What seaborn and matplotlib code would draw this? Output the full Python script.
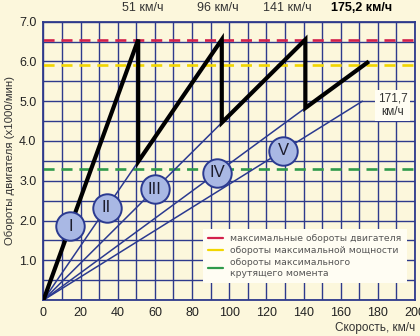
import matplotlib
matplotlib.use("Agg")
import matplotlib.pyplot as plt
from matplotlib.lines import Line2D
from matplotlib.ticker import MultipleLocator, FormatStrFormatter
import matplotlib.transforms as mtransforms
import pandas as pd
import seaborn as sns

# Engine speed (x1000 rpm) vs. road speed (km/h) through the gears
sawtooth_speed = [0, 51, 51, 96, 96, 141, 141, 175.2]
sawtooth_rpm = [0, 6.55, 3.48, 6.55, 4.46, 6.55, 4.83, 6.0]

# thin rays from the origin for gears II..V
ray_gear = ["II", "III", "IV", "V"]
ray_speed = [51, 96, 141, 171.7]
ray_rpm = [3.48, 4.46, 4.83, 5.0]

# gear badges
gear_labels = ["I", "II", "III", "IV", "V"]
badge_speed = [14.5, 34, 60, 93.5, 129]
badge_rpm = [1.86, 2.32, 2.79, 3.2, 3.75]

# reference engine speeds
rpm_max = 6.55
rpm_max_power = 5.9
rpm_max_torque = 3.3

shift_labels = ["51 км/ч", "96 км/ч", "141 км/ч", "175,2 км/ч"]
shift_speed = [51, 96, 141, 175.2]
x_ticks = list(range(0, 201, 20))
y_ticks = [1.0, 2.0, 3.0, 4.0, 5.0, 6.0, 7.0]

BG = "#fcf7dc"
GRID = "#2e3a8c"
RAY = "#2b3a90"

sns.set_style("white")
plt.rcParams["font.family"] = ["Liberation Sans", "DejaVu Sans"]

fig = plt.figure(figsize=(4.2, 3.36), dpi=100, facecolor=BG)
ax = fig.add_axes([0.1035, 0.107, 0.8845, 0.8285])
ax.set_facecolor(BG)

ax.set_xlim(0, 200)
ax.set_ylim(0, 7.0)
ax.set_xticks(x_ticks)
ax.xaxis.set_minor_locator(MultipleLocator(10))
ax.set_yticks(y_ticks)
ax.yaxis.set_minor_locator(MultipleLocator(0.5))
ax.yaxis.set_major_formatter(FormatStrFormatter("%.1f"))
ax.grid(True, which="both", color=GRID, lw=1.0)
ax.set_axisbelow(True)
ax.tick_params(which="both", length=0, labelsize=9, labelcolor="#222222", pad=5)
for s in ax.spines.values():
    s.set_color(GRID)
    s.set_linewidth(1.3)

# reference lines
dash_kw = dict(lw=1.9, dashes=(4.2, 2.6), zorder=2)
ax.axhline(rpm_max, color="#d3204b", **dash_kw)
ax.axhline(rpm_max_power, color="#f2d600", **dash_kw)
ax.axhline(rpm_max_torque, color="#2f9a4a", **dash_kw)

# rays
rays = pd.DataFrame({
    "gear": [g for g in ray_gear for _ in range(2)],
    "speed": [v for s in ray_speed for v in (0, s)],
    "rpm": [v for r in ray_rpm for v in (0, r)],
})
sns.lineplot(data=rays, x="speed", y="rpm", units="gear", estimator=None,
             color=RAY, lw=1.1, sort=False, ax=ax, zorder=3)

# sawtooth through the gears
saw = pd.DataFrame({"speed": sawtooth_speed, "rpm": sawtooth_rpm})
sns.lineplot(data=saw, x="speed", y="rpm", sort=False, estimator=None,
             color="black", lw=3.0, ax=ax, zorder=4,
             solid_joinstyle="miter", solid_capstyle="butt")

# gear badges
badges = pd.DataFrame({"speed": badge_speed, "rpm": badge_rpm, "gear": gear_labels})
sns.scatterplot(data=badges, x="speed", y="rpm", s=420, color="#a9b8e4",
                edgecolor=RAY, linewidth=1.4, ax=ax, zorder=5, legend=False)
for _, r in badges.iterrows():
    ax.text(r["speed"], r["rpm"], r["gear"], ha="center", va="center",
            fontsize=12, color="#1c1c2c", zorder=6,
            family=["Liberation Sans Narrow", "Liberation Sans"])

# top-speed note for V gear
ax.text(188, 4.9, "171,7\nкм/ч", ha="center", va="center", fontsize=8.5,
        color="#333333", linespacing=1.25, zorder=6,
        bbox=dict(boxstyle="square,pad=0.2", fc="#fffdf3", ec="none"))

# shift speeds above the plot
trans = mtransforms.blended_transform_factory(ax.transData, ax.transAxes)
label_shift = [2.5, -2, -9.5, -4]
for i, (lab, sp) in enumerate(zip(shift_labels, shift_speed)):
    bold = i == len(shift_labels) - 1
    ax.text(sp + label_shift[i], 1.05, lab, transform=trans, ha="center",
            va="center", fontsize=9, color="black" if bold else "#333333",
            fontweight="bold" if bold else "normal")

ax.set_ylabel("Обороты двигателя (x1000/мин)", fontsize=8.2, color="#333333",
              labelpad=3)
ax.set_xlabel("Скорость, км/ч", fontsize=8.5, color="#333333", loc="right",
              labelpad=2)

handles = [Line2D([], [], color=c, lw=1.6) for c in ("#d3204b", "#f2d600", "#2f9a4a")]
leg = ax.legend(handles,
                ["максимальные обороты двигателя",
                 "обороты максимальной мощности",
                 "обороты максимального\nкрутящего момента"],
                loc="lower right", bbox_to_anchor=(0.99, 0.045),
                prop={"family": "DejaVu Sans", "size": 6.7},
                labelcolor="#555555", frameon=True, fancybox=False,
                handlelength=1.6, handletextpad=0.8, borderpad=0.55,
                labelspacing=0.35)
leg.get_frame().set_facecolor("#fffdf3")
leg.get_frame().set_edgecolor("none")
leg.get_frame().set_alpha(1)
leg.set_zorder(7)

fig.savefig("out.png", dpi=100, facecolor=BG)
